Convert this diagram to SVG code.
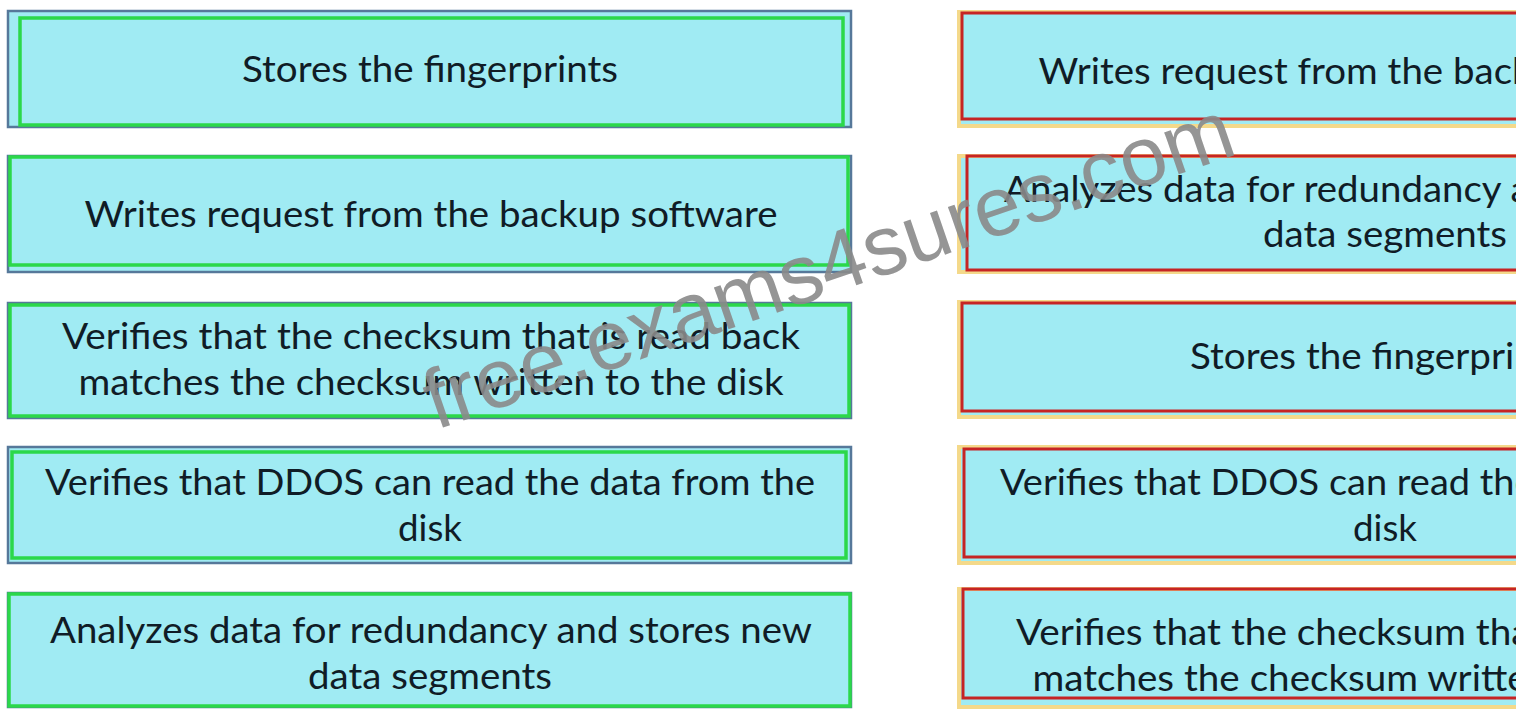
<svg xmlns="http://www.w3.org/2000/svg" width="1516" height="709" viewBox="0 0 1516 709">
<style>
.bg{fill:#ffffff}
.lo{fill:#a0ebf3;stroke:#56789a;stroke-width:2.5}
.lg{fill:none;stroke:#2bd84a;stroke-width:3.5}
.ry{fill:#a0ebf3;stroke:#f4d98a;stroke-width:4}
.rr{fill:none;stroke:#c62424;stroke-width:3}
.t{font-family:Lato,"Liberation Sans",sans-serif;font-size:37px;fill:#101c26;text-anchor:middle}
.wm{font-family:"Liberation Sans",Arial,sans-serif;font-size:84px;fill:#8a8a8a;fill-opacity:0.9}
</style>
<rect class="bg" x="0" y="0" width="1516" height="709"/>
<g id="left1">
<rect class="lo" x="8" y="11" width="843" height="116"/>
<rect class="lg" x="20" y="18" width="823" height="107"/>
<text class="t" x="430" y="82" textLength="376" lengthAdjust="spacingAndGlyphs">Stores the fingerprints</text>
</g>
<g id="left2">
<rect class="lo" x="8" y="156" width="843" height="116"/>
<rect class="lg" x="10" y="157" width="838" height="108"/>
<text class="t" x="431" y="227" textLength="693" lengthAdjust="spacingAndGlyphs">Writes request from the backup software</text>
</g>
<g id="left3">
<rect class="lo" x="8" y="303" width="843" height="115"/>
<rect class="lg" x="10" y="305" width="839" height="111"/>
<text class="t" x="431" y="349" textLength="738" lengthAdjust="spacingAndGlyphs">Verifies that the checksum that is read back</text>
<text class="t" x="431" y="395" textLength="705" lengthAdjust="spacingAndGlyphs">matches the checksum written to the disk</text>
</g>
<g id="left4">
<rect class="lo" x="8" y="447" width="843" height="116"/>
<rect class="lg" x="12" y="452" width="834" height="106"/>
<text class="t" x="430" y="495" textLength="770" lengthAdjust="spacingAndGlyphs">Verifies that DDOS can read the data from the</text>
<text class="t" x="430" y="541" textLength="64" lengthAdjust="spacingAndGlyphs">disk</text>
</g>
<g id="left5">
<rect class="lo" x="8" y="593" width="843" height="114"/>
<rect class="lg" x="9" y="594" width="841" height="112"/>
<text class="t" x="431" y="643" textLength="762" lengthAdjust="spacingAndGlyphs">Analyzes data for redundancy and stores new</text>
<text class="t" x="430" y="689" textLength="244" lengthAdjust="spacingAndGlyphs">data segments</text>
</g>
<g id="right1">
<rect class="ry" x="959" y="12" width="843" height="114"/>
<rect class="rr" x="962" y="13" width="840" height="106"/>
<text class="t" x="1385" y="84" textLength="693" lengthAdjust="spacingAndGlyphs">Writes request from the backup software</text>
</g>
<g id="right2">
<rect class="ry" x="959" y="156" width="843" height="116"/>
<rect class="rr" x="967" y="156" width="835" height="114"/>
<text class="t" x="1385" y="202" textLength="762" lengthAdjust="spacingAndGlyphs">Analyzes data for redundancy and stores new</text>
<text class="t" x="1385" y="247" textLength="244" lengthAdjust="spacingAndGlyphs">data segments</text>
</g>
<g id="right3">
<rect class="ry" x="959" y="302" width="843" height="115"/>
<rect class="rr" x="962" y="303" width="840" height="108"/>
<text class="t" x="1378" y="369" textLength="376" lengthAdjust="spacingAndGlyphs">Stores the fingerprints</text>
</g>
<g id="right4">
<rect class="ry" x="959" y="447" width="843" height="116"/>
<rect class="rr" x="964" y="449" width="838" height="108"/>
<text class="t" x="1385" y="495" textLength="770" lengthAdjust="spacingAndGlyphs">Verifies that DDOS can read the data from the</text>
<text class="t" x="1385" y="541" textLength="64" lengthAdjust="spacingAndGlyphs">disk</text>
</g>
<g id="right5">
<rect class="ry" x="959" y="589" width="843" height="118"/>
<rect class="rr" x="963" y="589" width="839" height="109"/>
<text class="t" x="1385" y="645" textLength="738" lengthAdjust="spacingAndGlyphs">Verifies that the checksum that is read back</text>
<text class="t" x="1385" y="691" textLength="705" lengthAdjust="spacingAndGlyphs">matches the checksum written to the disk</text>
</g>
<g id="connectors"></g>
<g id="watermark">
<text class="wm" transform="translate(436,430) rotate(-19)" x="0" y="0">free.exams4sures.com</text>
</g>
</svg>
